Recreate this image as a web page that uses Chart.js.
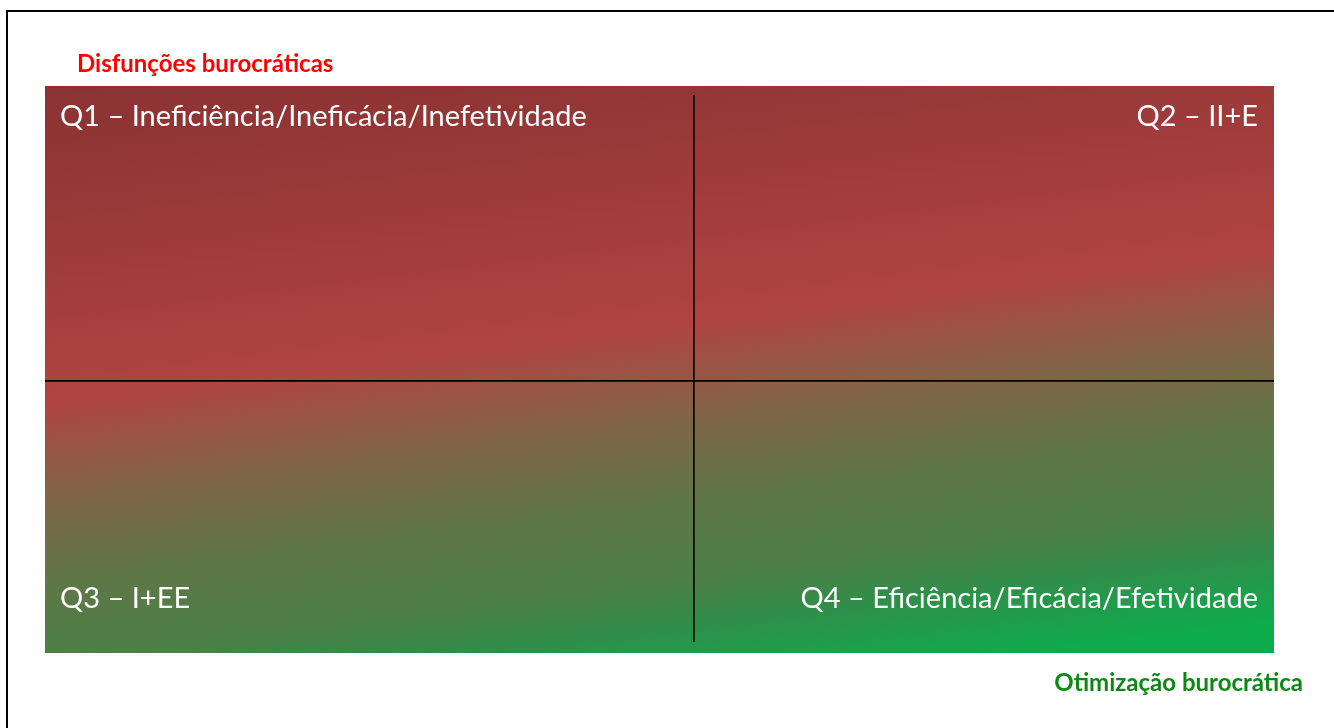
<!DOCTYPE html>
<html>
<head>
<meta charset="utf-8">
<script src="https://cdn.jsdelivr.net/npm/chart.js@4.4.0/dist/chart.umd.min.js"></script>
<style>
  html, body { margin: 0; padding: 0; background: #fff; overflow: hidden; }
  #frame { position: absolute; left: 6px; top: 10px; width: 1400px; height: 800px; border: 2px solid #000; box-sizing: border-box; }
  #wrap { position: absolute; left: 0; top: 0; width: 1334px; height: 728px; }
</style>
</head>
<body>
<div id="frame"></div>
<div id="wrap"><canvas id="matriz" width="1334" height="728"></canvas></div>
<script>
// quadrantes da matriz
const quadrantLabels = [
  'Q1 \u2013 Inefici\u00eancia/Inefic\u00e1cia/Inefetividade',
  'Q2 \u2013 II+E',
  'Q3 \u2013 I+EE',
  'Q4 \u2013 Efici\u00eancia/Efic\u00e1cia/Efetividade'
];
const axisTitles = ['Disfun\u00e7\u00f5es burocr\u00e1ticas', 'Otimiza\u00e7\u00e3o burocr\u00e1tica'];

// linhas que dividem os quadrantes (coordenadas das escalas -1..1)
const horizontalLine = [{x: -1, y: -0.04}, {x: 1, y: -0.04}];
const verticalLine = [{x: 0.056, y: -0.961}, {x: 0.056, y: 0.968}];

const fundo = {
  id: 'fundo',
  beforeDatasetsDraw(chart) {
    const {ctx, chartArea: a} = chart;
    const g = ctx.createLinearGradient(a.left, a.top, a.left + 85, a.top + 680);
    g.addColorStop(0, '#8a3232');
    g.addColorStop(0.16, '#963837');
    g.addColorStop(0.46, '#b04442');
    g.addColorStop(0.6, '#7f6648');
    g.addColorStop(0.72, '#5f7747');
    g.addColorStop(0.84, '#4a8046');
    g.addColorStop(0.9, '#2f8f4a');
    g.addColorStop(1, '#0eab4c');
    ctx.save();
    ctx.fillStyle = g;
    ctx.fillRect(a.left, a.top, a.right - a.left, a.bottom - a.top);
    ctx.restore();
  },
  afterDraw(chart) {
    const {ctx, chartArea: a} = chart;
    ctx.save();
    ctx.textBaseline = 'middle';
    ctx.font = '29px Lato, "Open Sans", sans-serif';
    ctx.fillStyle = '#ffffff';
    ctx.textAlign = 'left';
    ctx.fillText(quadrantLabels[0], a.left + 15, a.top + 31);
    ctx.fillText(quadrantLabels[2], a.left + 15, a.bottom - 54);
    ctx.textAlign = 'right';
    ctx.fillText(quadrantLabels[1], a.right - 16, a.top + 31);
    ctx.fillText(quadrantLabels[3], a.right - 16, a.bottom - 54);

    ctx.font = 'bold 24px Lato, "Open Sans", sans-serif';
    ctx.textAlign = 'left';
    ctx.fillStyle = '#ff0000';
    ctx.fillText(axisTitles[0], 77, 64);
    ctx.textAlign = 'right';
    ctx.fillStyle = '#0a8a12';
    ctx.fillText(axisTitles[1], 1303, 683);
    ctx.restore();
  }
};

new Chart(document.getElementById('matriz'), {
  type: 'scatter',
  data: {
    datasets: [
      { data: horizontalLine, showLine: true, borderColor: '#000', borderWidth: 1.6, pointRadius: 0 },
      { data: verticalLine, showLine: true, borderColor: '#000', borderWidth: 1.6, pointRadius: 0 }
    ]
  },
  options: {
    responsive: false,
    animation: false,
    devicePixelRatio: 1,
    layout: { padding: { left: 45, right: 60, top: 86, bottom: 75 } },
    scales: {
      x: { min: -1, max: 1, display: false },
      y: { min: -1, max: 1, display: false }
    },
    plugins: { legend: { display: false }, tooltip: { enabled: false } }
  },
  plugins: [fundo]
});
</script>
</body>
</html>
